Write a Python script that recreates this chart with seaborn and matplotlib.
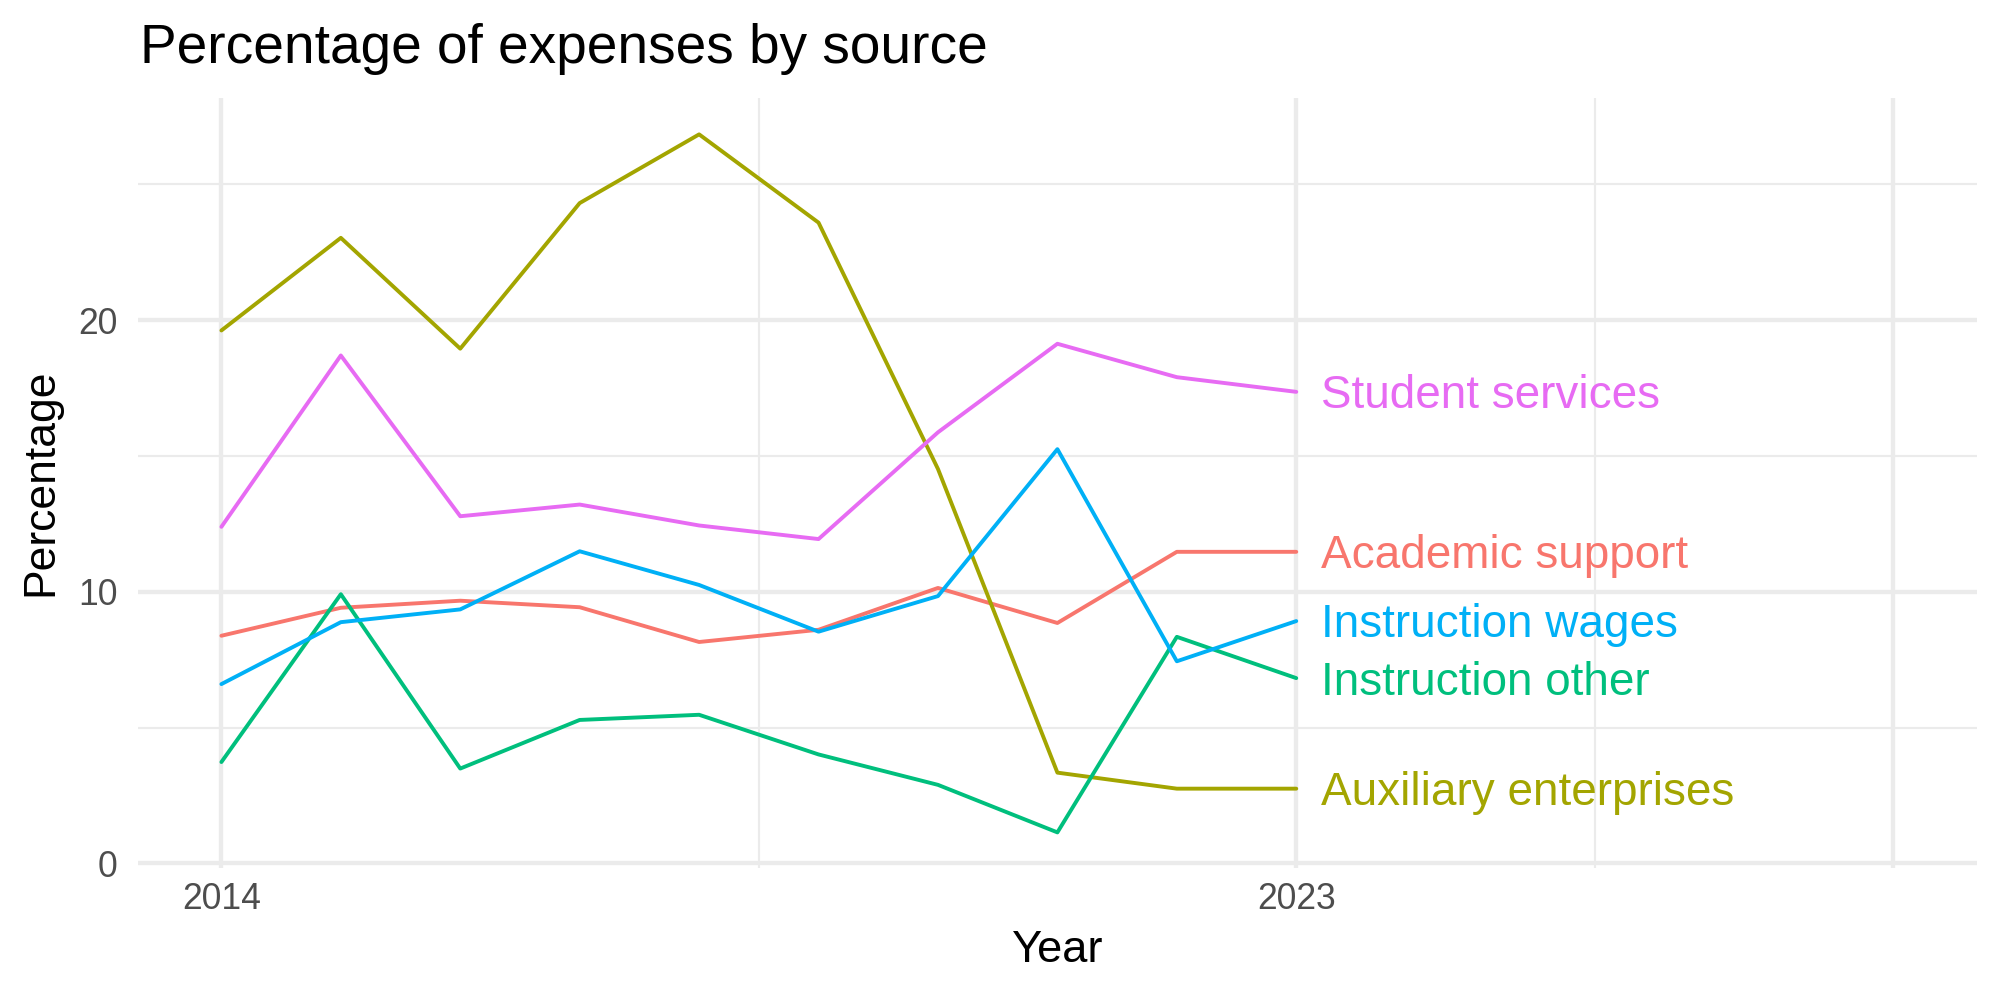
import pandas as pd
import matplotlib
matplotlib.use("Agg")
import matplotlib.pyplot as plt
import seaborn as sns
from matplotlib.ticker import FixedLocator

# Values

years = list(range(2014, 2024))
academic_support = [8.38, 9.41, 9.67, 9.43, 8.15, 8.60, 10.14, 8.85, 11.47, 11.47]
auxiliary_enterprises = [19.62, 23.03, 18.95, 24.31, 26.84, 23.59, 14.52, 3.34, 2.75, 2.75]
instruction_other = [3.73, 9.91, 3.49, 5.28, 5.47, 4.01, 2.89, 1.14, 8.34, 6.82]
instruction_wages = [6.60, 8.88, 9.35, 11.49, 10.25, 8.53, 9.84, 15.25, 7.44, 8.92]
student_services = [12.39, 18.70, 12.78, 13.21, 12.44, 11.94, 15.87, 19.13, 17.90, 17.36]

sources = ["Academic support", "Auxiliary enterprises", "Instruction other",
           "Instruction wages", "Student services"]
series = [academic_support, auxiliary_enterprises, instruction_other,
          instruction_wages, student_services]

# ggplot default hue colours
source_colors = ["#F8766D", "#A3A500", "#00BF7D", "#00B0F6", "#E76BF3"]
palette = dict(zip(sources, source_colors))

x_major = [2014, 2023, 2028]
x_labels = ["2014", "2023", ""]
x_minor = [2018.5, 2025.5]
y_major = [0, 10, 20]
y_minor = [5, 15, 25]

# Long-form table for seaborn
df = pd.DataFrame({
    "Year": years * len(sources),
    "Percentage": [v for s in series for v in s],
    "Source": [name for name in sources for _ in years],
})

sns.set_theme(style="white")
plt.rcParams["font.family"] = ["Liberation Sans", "DejaVu Sans"]

fig, ax = plt.subplots(figsize=(10, 5), dpi=200)
fig.subplots_adjust(left=0.0692, right=0.9885, top=0.9023, bottom=0.1323)

sns.lineplot(data=df, x="Year", y="Percentage", hue="Source", palette=palette,
             linewidth=1.4, legend=False, ax=ax, zorder=3)

# Direct labels at the last year
last = df[df["Year"] == df["Year"].max()]
for _, row in last.iterrows():
    ax.annotate(row["Source"], xy=(row["Year"], row["Percentage"]),
                xytext=(9, -5.9), textcoords="offset points",
                ha="left", va="baseline", fontsize=16.5,
                color=palette[row["Source"]], zorder=4)

ax.set_xlim(2013.305, 2028.70)
ax.set_ylim(-0.16, 28.19)

ax.xaxis.set_major_locator(FixedLocator(x_major))
ax.set_xticklabels(x_labels)
ax.xaxis.set_minor_locator(FixedLocator(x_minor))
ax.yaxis.set_major_locator(FixedLocator(y_major))
ax.yaxis.set_minor_locator(FixedLocator(y_minor))

ax.grid(which="major", color="#EBEBEB", linewidth=1.55, zorder=0)
ax.grid(which="minor", color="#EBEBEB", linewidth=0.78, zorder=0)
ax.set_axisbelow(True)
for sp in ax.spines.values():
    sp.set_visible(False)

ax.tick_params(axis="both", which="both", length=0, labelsize=12.8,
               labelcolor="#4D4D4D")
ax.tick_params(axis="x", pad=5)
ax.tick_params(axis="y", pad=7.5)

ax.set_xlabel("Year", fontsize=16.3, color="black", labelpad=5)
ax.set_ylabel("Percentage", fontsize=16, color="black", labelpad=6)

fig.text(0.070, 1 - 0.0627, "Percentage of expenses by source",
         fontsize=19.8, color="black", ha="left", va="baseline")

fig.savefig("out.png", dpi=200, facecolor="white")
